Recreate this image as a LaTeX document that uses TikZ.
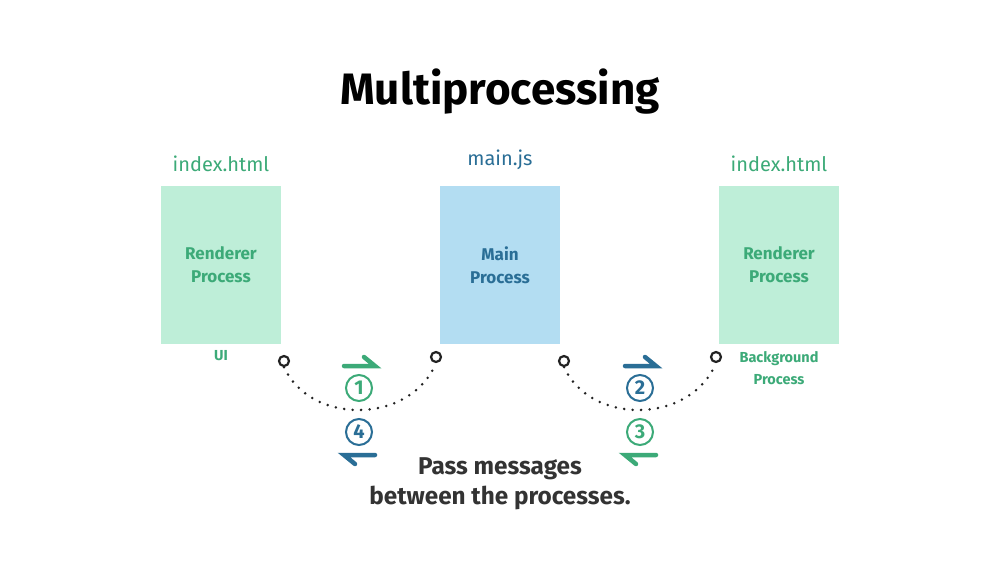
\documentclass[tikz,border=0pt]{standalone}
\usepackage{fontspec}
\setmainfont{Fira Sans}
\definecolor{gtext}{HTML}{3CAA78}
\definecolor{gfill}{HTML}{BEEED8}
\definecolor{btext}{HTML}{2A6E96}
\definecolor{bfill}{HTML}{B3DDF2}
\definecolor{dark}{HTML}{222222}
\definecolor{gray3}{HTML}{333333}
\begin{document}
\begin{tikzpicture}[x=1pt,y=-1pt,
  procbox/.style={minimum width=120pt,minimum height=158pt,inner sep=0pt,align=center,font=\fontsize{17}{23}\selectfont\bfseries},
  filelabel/.style={font=\fontsize{20}{24}\selectfont},
  smalllabel/.style={font=\fontsize{14.5}{22}\selectfont\bfseries,text=gtext,align=center},
  endpt/.style={circle,draw=dark,line width=2.2pt,minimum size=10pt,inner sep=0pt},
  num/.style={circle,draw,line width=2pt,minimum size=26pt,inner sep=0pt,font=\fontsize{20}{20}\selectfont\bfseries},
  harp/.style={line width=4.5pt,line cap=round},
  dots/.style={line width=2.8pt,dash pattern=on 0pt off 8.5pt,line cap=round,dark}
]
\useasboundingbox[fill=white] (0,0) rectangle (1000,563);
\node[font=\fontsize{44}{50}\selectfont\bfseries,text=black] (title) at (500,92) {Multiprocessing};

\node[procbox,fill=gfill,text=gtext] (r1) at (221,265) {Renderer\\Process};
\node[procbox,fill=bfill,text=btext] (m) at (500,265) {Main\\Process};
\node[procbox,fill=gfill,text=gtext] (r2) at (779,265) {Renderer\\Process};

\node[filelabel,text=gtext] (f1) at (221,164) {index.html};
\node[filelabel,text=btext] (f2) at (500,160) {main.js};
\node[filelabel,text=gtext] (f3) at (779,164) {index.html};

\node[smalllabel] (ui) at (221,356) {UI};
\node[smalllabel] (bg) at (779,368) {Background\\Process};

\node[endpt] (a1) at (284,361) {};
\node[endpt] (a2) at (436,357) {};
\node[endpt] (b1) at (564,361) {};
\node[endpt] (b2) at (716,357) {};

\draw[dots] (a1.south) .. controls (310,425) and (410,425) .. (a2.south);
\draw[dots] (b1.south) .. controls (590,425) and (690,425) .. (b2.south);

\node[num,draw=gtext,text=gtext] (n1) at (359,388) {1};
\node[num,draw=btext,text=btext] (n4) at (359,432) {4};
\node[num,draw=btext,text=btext] (n2) at (640,388) {2};
\node[num,draw=gtext,text=gtext] (n3) at (640,432) {3};

\coordinate (h1a) at (344,366); \coordinate (h1b) at (375,366); \coordinate (h1c) at (364,357);
\draw[harp,gtext] (h1a) -- (h1b) -- (h1c);
\coordinate (h4a) at (375,455); \coordinate (h4b) at (344,455); \coordinate (h4c) at (355,464);
\draw[harp,btext] (h4a) -- (h4b) -- (h4c);
\coordinate (h2a) at (625,366); \coordinate (h2b) at (656,366); \coordinate (h2c) at (645,357);
\draw[harp,btext] (h2a) -- (h2b) -- (h2c);
\coordinate (h3a) at (656,455); \coordinate (h3b) at (625,455); \coordinate (h3c) at (636,464);
\draw[harp,gtext] (h3a) -- (h3b) -- (h3c);

\node[font=\fontsize{24.3}{30}\selectfont\bfseries,text=gray3,align=center] (msg) at (500,484) {Pass messages\\between the processes.};
\end{tikzpicture}
\end{document}
